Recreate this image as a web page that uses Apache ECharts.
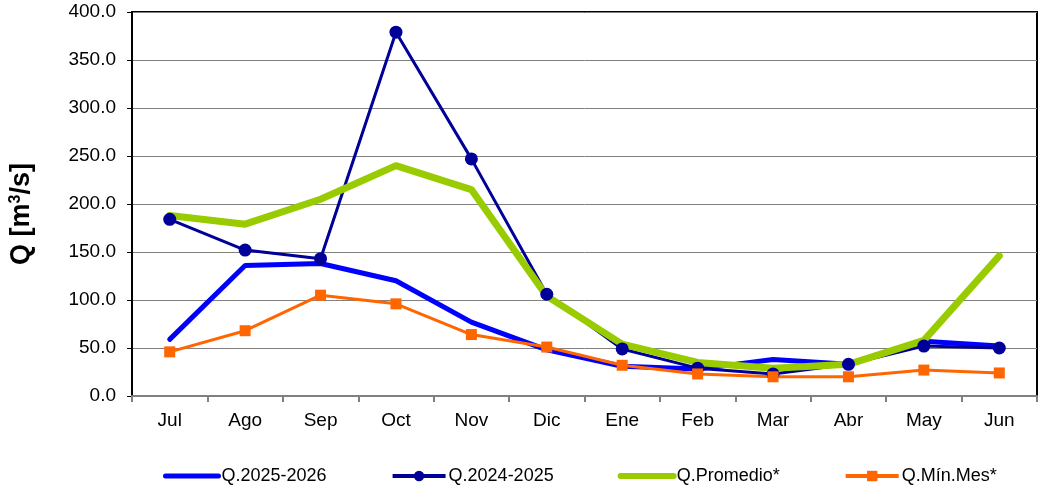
<!DOCTYPE html>
<html>
<head>
<meta charset="utf-8">
<script src="https://cdn.jsdelivr.net/npm/echarts@6/dist/echarts.min.js"></script>
<style>
  html, body { margin: 0; padding: 0; background: #fff; }
  #chart { width: 1050px; height: 486px; }
</style>
</head>
<body>
<div id="chart"></div>
<script>
// months, hydrological year Jul-Jun
var months = ['Jul', 'Ago', 'Sep', 'Oct', 'Nov', 'Dic', 'Ene', 'Feb', 'Mar', 'Abr', 'May', 'Jun'];

var q2025 = [59, 136, 138, 120, 77, 48, 31, 28, 38, 33, 57, 52];
var q2024 = [184, 152, 143, 379, 247, 106, 49, 29, 23, 33, 52, 50];
var qProm = [188, 179, 205, 240, 215, 104, 54, 35, 29, 33, 58, 146];
var qMin = [46, 68, 105, 96, 64, 51, 32, 23, 20, 20, 27, 24];

var seriesNames = ['Q.2025-2026', 'Q.2024-2025', 'Q.Promedio*', 'Q.Mín.Mes*'];

var font = 'Arial, "Liberation Sans", sans-serif';

var chart = echarts.init(document.getElementById('chart'));

var options = {
  animation: false,
  textStyle: { fontFamily: font, color: '#000' },

  grid: {
    left: 132,
    right: 13,
    top: 12,
    bottom: 90,
    show: true,
    borderColor: '#000',
    borderWidth: 2
  },

  legend: {
    // plain lines: hide the legend marker, keep the thick line
    data: [
      { name: seriesNames[0], itemStyle: { opacity: 0 }, lineStyle: { width: 5 } },
      { name: seriesNames[1], lineStyle: { width: 4 } },
      { name: seriesNames[2], itemStyle: { opacity: 0 }, lineStyle: { width: 6 } },
      { name: seriesNames[3], lineStyle: { width: 4 } }
    ],
    left: 158,
    top: 462,
    itemWidth: 53,
    itemHeight: 13,
    itemGap: 64,
    textStyle: { fontFamily: font, fontSize: 18, color: '#000', padding: [0, 0, 0, -2] }
  },

  xAxis: {
    type: 'category',
    data: months,
    boundaryGap: true,
    axisLine: { lineStyle: { color: '#808080', width: 2 } },
    axisTick: { show: true, length: 6, lineStyle: { color: '#808080', width: 2 } },
    axisLabel: { fontSize: 19, color: '#000', margin: 15 }
  },

  yAxis: {
    type: 'value',
    min: 0,
    max: 400,
    interval: 50,
    name: 'Q [m{sup|3}/s]',
    nameLocation: 'middle',
    nameGap: 97,
    nameTextStyle: {
      fontSize: 27,
      fontWeight: 'bold',
      color: '#000',
      padding: [0, 20, 0, 0],
      rich: {
        sup: { fontSize: 16, fontWeight: 'bold', color: '#000', verticalAlign: 'top', padding: [0, 0, 10, 0] }
      }
    },
    axisLine: { show: true, lineStyle: { color: '#000', width: 2 } },
    axisTick: { show: true, length: 5, lineStyle: { color: '#000' } },
    axisLabel: {
      fontSize: 19,
      color: '#000',
      margin: 16,
      formatter: function (v) { return v.toFixed(1); }
    },
    splitLine: { lineStyle: { color: '#808080', width: 1 } }
  },

  series: [
    {
      name: seriesNames[0],
      type: 'line',
      data: q2025,
      symbol: 'none',
      itemStyle: { color: '#0000FF' },
      lineStyle: { color: '#0000FF', width: 5, cap: 'round' }
    },
    {
      name: seriesNames[1],
      type: 'line',
      data: q2024,
      symbol: 'circle',
      symbolSize: 13,
      itemStyle: { color: '#000099' },
      lineStyle: { color: '#000099', width: 3 }
    },
    {
      name: seriesNames[2],
      type: 'line',
      data: qProm,
      symbol: 'none',
      itemStyle: { color: '#99CC00' },
      lineStyle: { color: '#99CC00', width: 7, cap: 'round' }
    },
    {
      name: seriesNames[3],
      type: 'line',
      data: qMin,
      symbol: 'rect',
      symbolSize: 11,
      itemStyle: { color: '#FF6600' },
      lineStyle: { color: '#FF6600', width: 3 }
    }
  ]
};

chart.setOption(options);
window.addEventListener('resize', chart.resize);
</script>
</body>
</html>
